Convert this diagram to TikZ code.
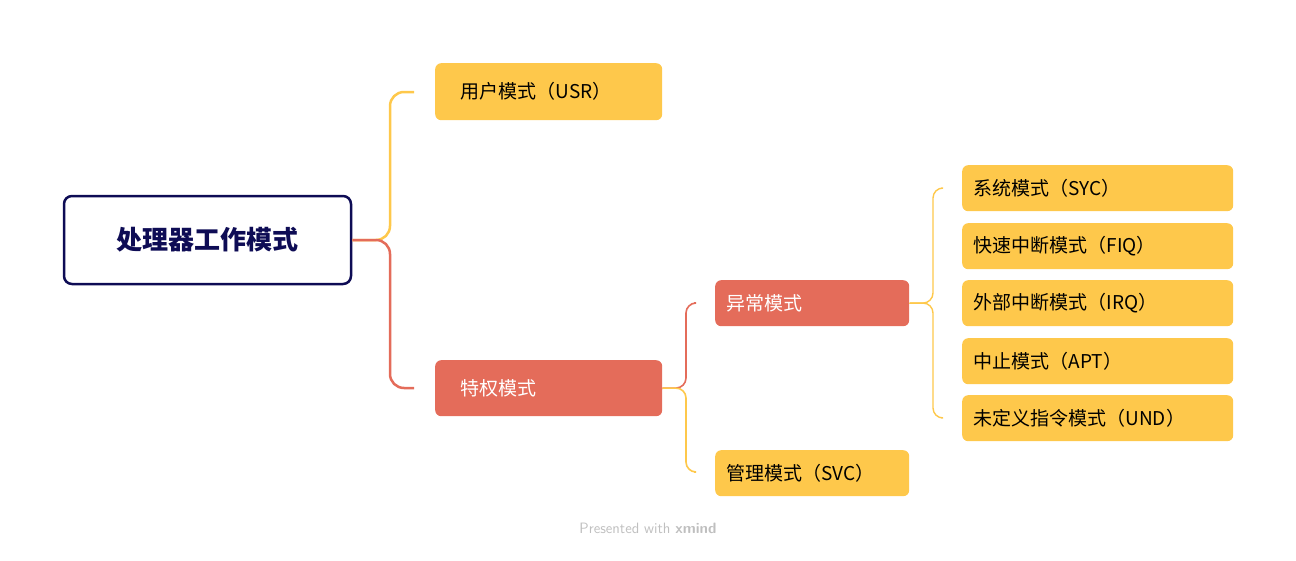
\documentclass[tikz,border=0pt]{standalone}
\usepackage{fontspec}
\setmainfont{Noto Sans CJK SC}
\definecolor{yel}{HTML}{FEC84B}
\definecolor{redc}{HTML}{E46C5A}
\definecolor{navy}{HTML}{0E0C55}
\begin{document}
\begin{tikzpicture}[x=1pt,y=-1pt,
 box/.style={rounded corners=6pt,anchor=north west,inner sep=0pt,font=\fontsize{19}{22}\selectfont},
 yb/.style={box,fill=yel,text=black},
 rb/.style={box,fill=redc,text=white},
 ln/.style={line width=2.5pt,rounded corners=14pt},
 thin/.style={line width=1.6pt,rounded corners=10pt}]
\useasboundingbox (0,0) rectangle (1296,560);
\node[draw=navy,line width=2.5pt,rounded corners=8pt,minimum width=287pt,minimum height=88pt,font=\fontsize{26}{30}\selectfont\bfseries,text=navy] (root) at (207.5,240) {处理器工作模式};
\node[yb,minimum width=227pt,minimum height=57pt] (usr) at (435,63) {};
\node[anchor=west,font=\fontsize{19}{22}\selectfont] at ([xshift=22pt]usr.west) {用户模式（USR）};
\node[rb,minimum width=227pt,minimum height=56pt] (tq) at (435,360) {};
\node[anchor=west,font=\fontsize{19}{22}\selectfont,text=white] at ([xshift=22pt]tq.west) {特权模式};
\node[rb,minimum width=194pt,minimum height=46pt] (yc) at (715,280) {};
\node[anchor=west,font=\fontsize{19}{22}\selectfont,text=white] at ([xshift=8pt]yc.west) {异常模式};
\node[yb,minimum width=194pt,minimum height=46pt] (svc) at (715,450) {};
\node[anchor=west,font=\fontsize{19}{22}\selectfont] at ([xshift=8pt]svc.west) {管理模式（SVC）};
\foreach \n/\y/\t in {a/165/系统模式（SYC）,b/223/快速中断模式（FIQ）,c/280/外部中断模式（IRQ）,d/338/中止模式（APT）,e/395/未定义指令模式（UND）}{
 \node[yb,minimum width=271pt,minimum height=46pt] (\n) at (962,\y) {};
 \node[anchor=west,font=\fontsize{19}{22}\selectfont] at ([xshift=8pt]\n.west) {\t};}
\draw[ln,yel] (root.east) -- (390,240) -- (390,92) -- (414,92);
\draw[ln,redc] (root.east) -- (390,240) -- (390,388) -- (414,388);
\draw[thin,redc] (tq.east) -- (686,388) -- (686,303) -- (694,303);
\draw[thin,yel] (tq.east) -- (686,388) -- (686,472) -- (694,472);
\draw[thin,yel,line width=1.4pt] (yc.east) -- (933,303) -- (933,188) -- (941,188);
\draw[thin,yel,line width=1.4pt] (yc.east) -- (933,303) -- (933,418) -- (941,418);
\node[text=gray!50,font=\fontsize{15}{18}\selectfont\sffamily] at (648,528) {Presented with \textbf{xmind}};
\end{tikzpicture}
\end{document}
